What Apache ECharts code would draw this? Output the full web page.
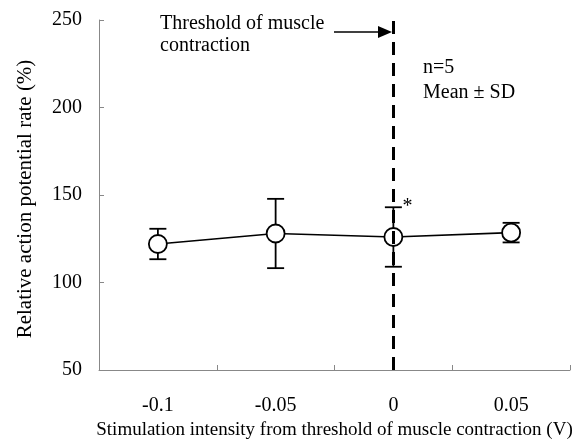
<!DOCTYPE html>
<html><head><meta charset="utf-8">
<script src="https://cdn.jsdelivr.net/npm/echarts@6/dist/echarts.min.js"></script>
<style>html,body{margin:0;padding:0;background:#fff}#c{width:576px;height:445px}</style>
</head><body><div id="c"></div>
<script>
var categories = ['-0.1', '-0.05', '0', '0.05'];
var means = [122, 128, 126, 128.5];
var sds = [8.7, 19.8, 17, 5.6];
var marks = ['', '', '*', ''];
var yTicks = [50, 100, 150, 200, 250];
var thresholdCategory = '0';

var FONT = 'Liberation Serif';
var chart = echarts.init(document.getElementById('c'), null, {renderer: 'canvas'});

var errData = categories.map(function (c, i) { return [i, means[i] - sds[i], means[i] + sds[i], marks[i]]; });

chart.setOption({
  animation: false,
  grid: {left: 99, right: 6, top: 20, bottom: 68},
  xAxis: {
    type: 'category', data: categories, boundaryGap: true,
    name: 'Stimulation intensity from threshold of muscle contraction (V)',
    nameLocation: 'middle', nameGap: 51,
    nameTextStyle: {fontFamily: FONT, fontSize: 19, color: '#000'},
    axisLine: {lineStyle: {color: '#888', width: 1}},
    axisTick: {show: true, inside: true, length: 5, alignWithLabel: false, lineStyle: {color: '#888'}},
    axisLabel: {fontFamily: FONT, fontSize: 20, color: '#000', margin: 26},
    splitLine: {show: false}
  },
  yAxis: {
    type: 'value', min: yTicks[0], max: yTicks[yTicks.length - 1], interval: 50,
    name: 'Relative action potential rate (%)',
    nameLocation: 'middle', nameGap: 63,
    nameTextStyle: {fontFamily: FONT, fontSize: 21, color: '#000', padding: [0, 0, 0, -8]},
    axisLine: {show: true, lineStyle: {color: '#888', width: 1}},
    axisTick: {show: true, inside: true, length: 5, lineStyle: {color: '#888'}},
    axisLabel: {fontFamily: FONT, fontSize: 20, color: '#000', margin: 17},
    splitLine: {show: false}
  },
  series: [
    {
      type: 'custom', z: 1,
      data: errData,
      renderItem: function (params, api) {
        var x = api.value(0);
        var lo = api.coord([x, api.value(1)]);
        var hi = api.coord([x, api.value(2)]);
        var hw = 8.5;
        var st = {stroke: '#000', lineWidth: 1.8};
        var children = [
          {type: 'line', shape: {x1: lo[0], y1: lo[1], x2: hi[0], y2: hi[1]}, style: st},
          {type: 'line', shape: {x1: lo[0] - hw, y1: lo[1], x2: lo[0] + hw, y2: lo[1]}, style: st},
          {type: 'line', shape: {x1: hi[0] - hw, y1: hi[1], x2: hi[0] + hw, y2: hi[1]}, style: st}
        ];
        var m = api.value(3);
        if (m) {
          children.push({type: 'text', x: hi[0] + 9, y: hi[1] - 11,
            style: {text: m, fontFamily: FONT, fontSize: 20, fill: '#000'}});
        }
        return {type: 'group', children: children};
      }
    },
    {
      type: 'line', z: 3,
      data: means,
      symbol: 'circle', symbolSize: 18,
      itemStyle: {color: '#fff', borderColor: '#000', borderWidth: 1.8},
      lineStyle: {color: '#000', width: 1.6},
      markLine: {
        z: 10, silent: true, symbol: 'none', label: {show: false},
        lineStyle: {color: '#000', width: 3, type: [13, 8]},
        data: [{xAxis: thresholdCategory}]
      }
    }
  ],
  graphic: [
    {type: 'text', left: 160, top: 13, style: {text: 'Threshold of muscle\ncontraction', fontFamily: FONT, fontSize: 20, lineHeight: 22, fill: '#000'}},
    {type: 'line', shape: {x1: 334, y1: 32, x2: 380, y2: 32}, style: {stroke: '#000', lineWidth: 1.5}},
    {type: 'polygon', shape: {points: [[378, 26], [392, 32], [378, 38]]}, style: {fill: '#000'}},
    {type: 'text', left: 423, top: 55, style: {text: 'n=5\nMean \u00b1 SD', fontFamily: FONT, fontSize: 20, lineHeight: 25, fill: '#000'}}
  ]
});
</script></body></html>
